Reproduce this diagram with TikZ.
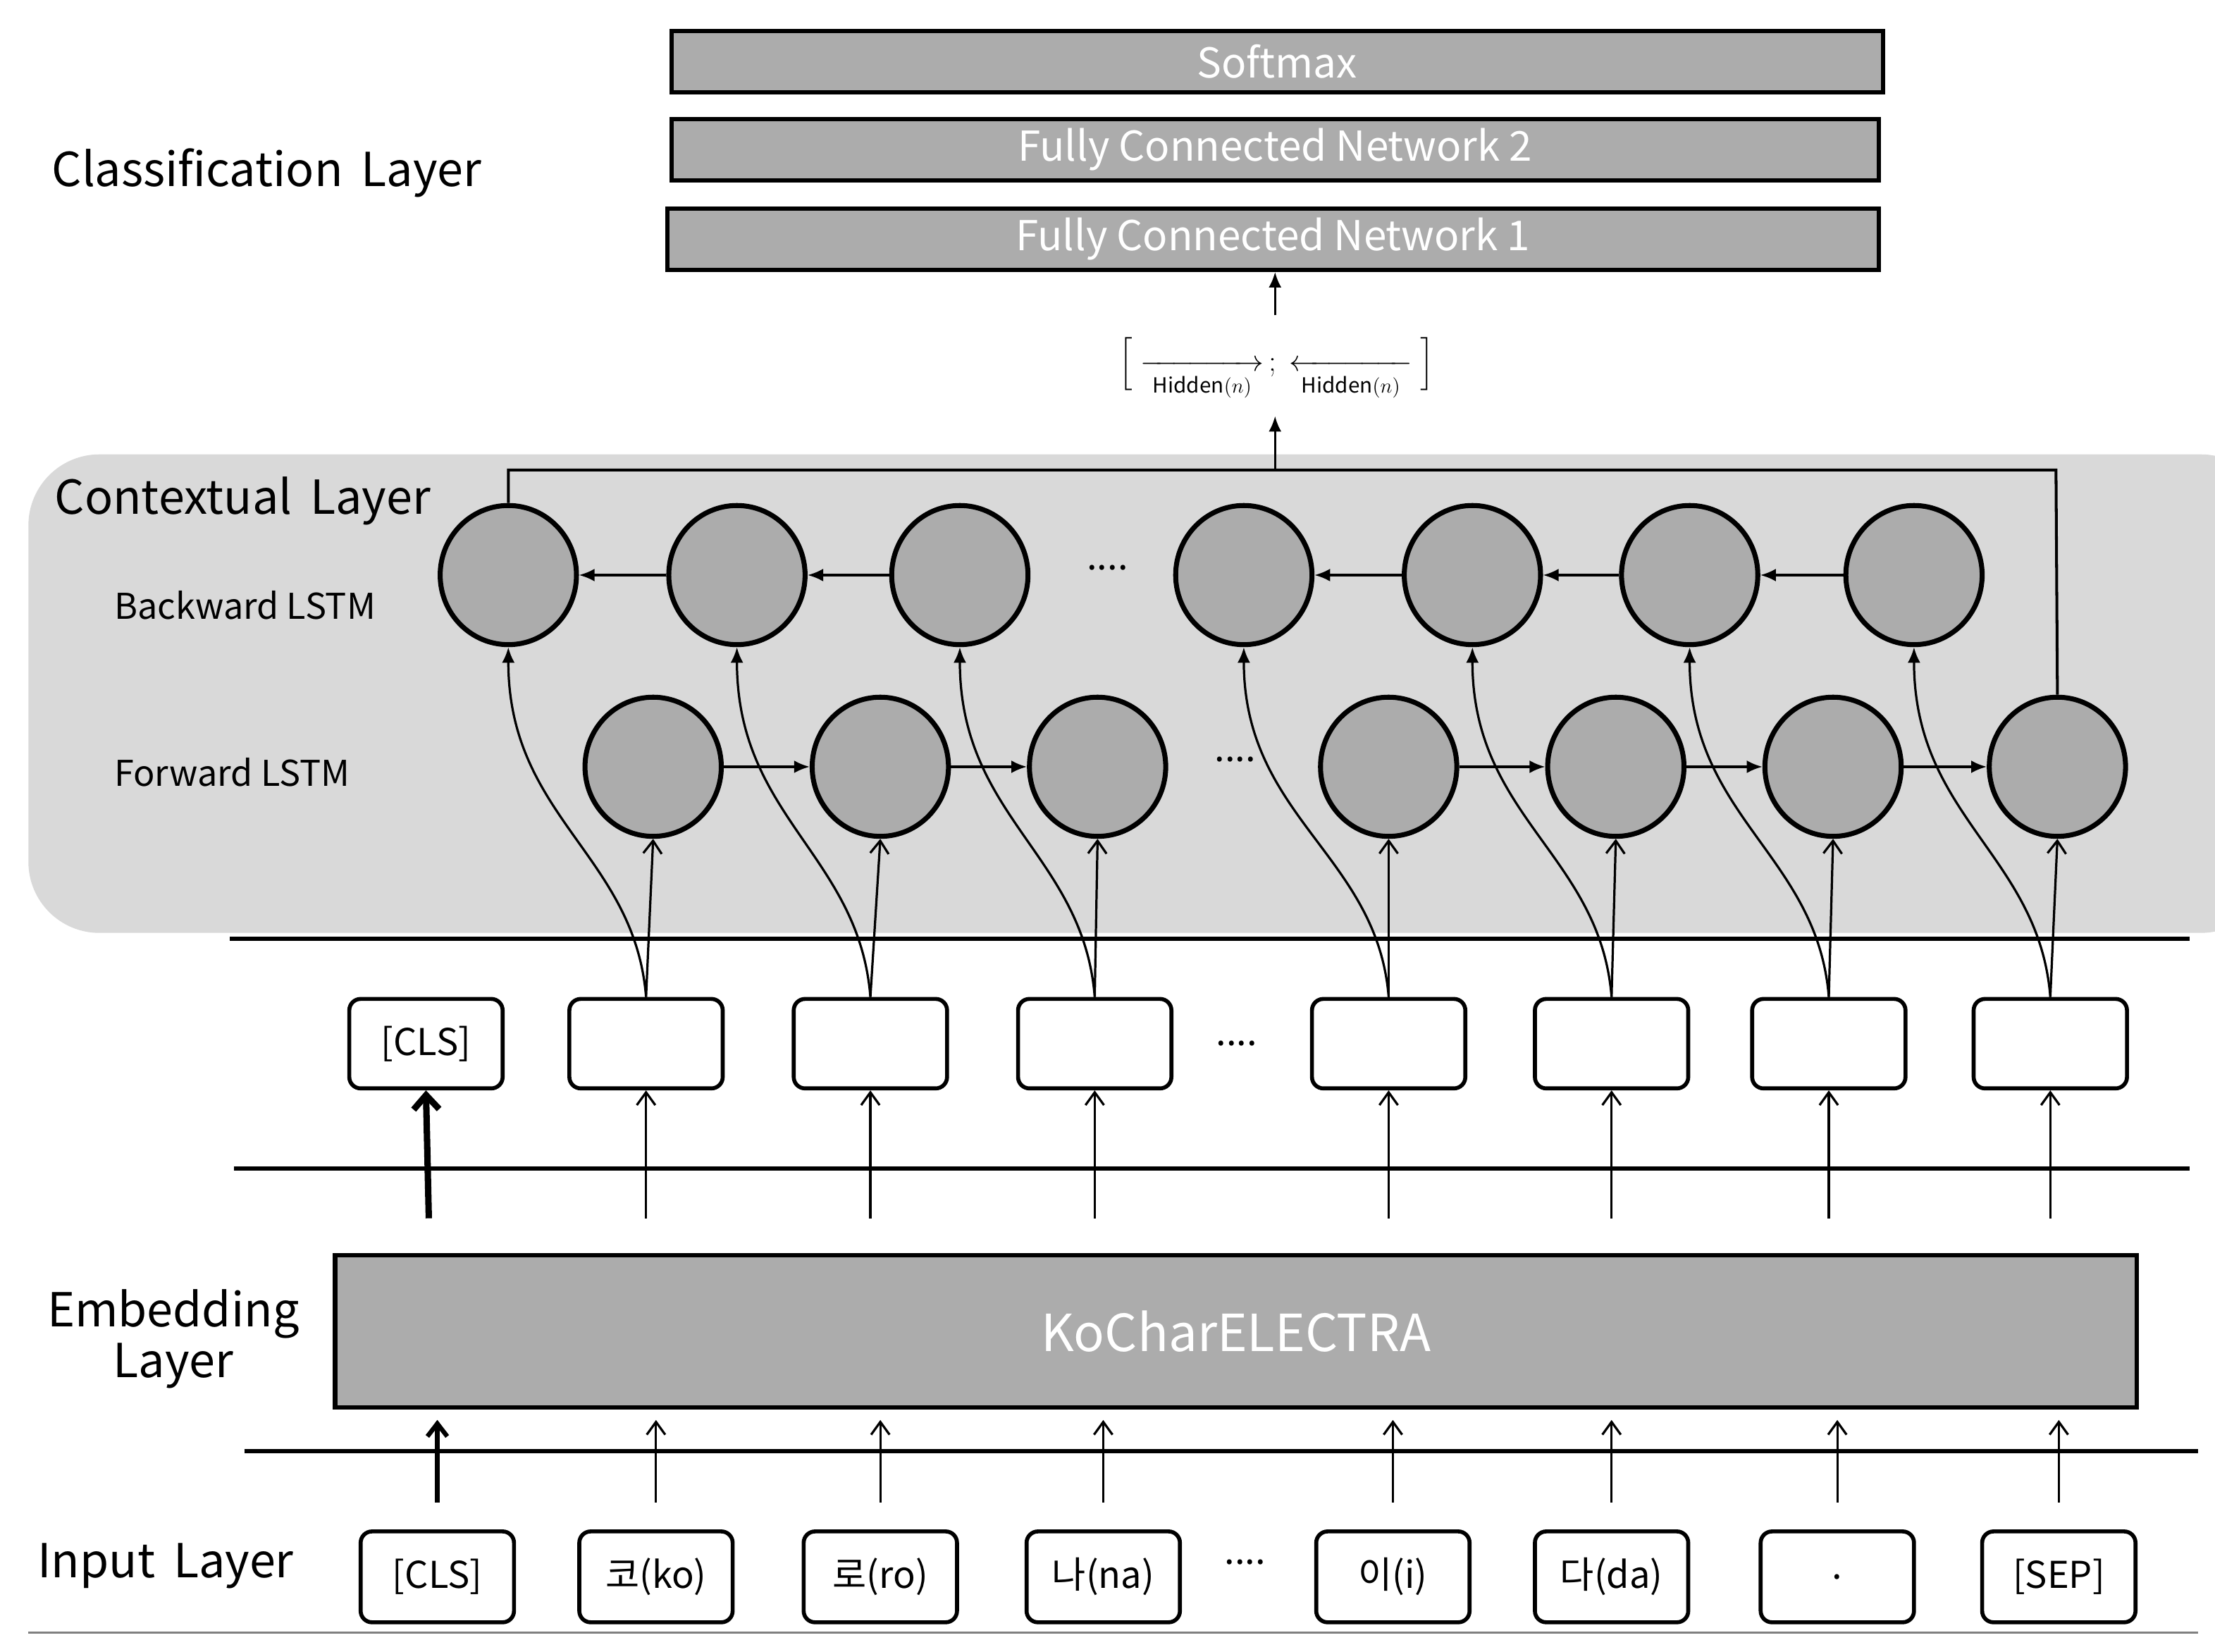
\documentclass[tikz,border=0pt]{standalone}
\usepackage{amsmath}
\usepackage{fontspec}
\setmainfont{Noto Sans CJK KR}
\usetikzlibrary{arrows.meta,calc,shapes.geometric}
\begin{document}
\begin{tikzpicture}[x=1pt,y=-1pt,
  bar/.style={draw=black,line width=3pt,fill=gray!65,text=white,font=\fontsize{29}{30}\selectfont},
  lstm/.style={draw=black,line width=3.5pt,fill=gray!65,ellipse,minimum width=96pt,minimum height=98pt,inner sep=0pt},
  tok/.style={draw=black,line width=2.8pt,rounded corners=8pt,minimum width=108pt,minimum height=63pt,inner sep=0pt,font=\fontsize{26}{28}\selectfont},
  hl/.style={line width=3pt},
  ar/.style={line width=1.6pt,-{Latex[length=11pt,width=9pt]}},
  oar/.style={line width=1.6pt,-{Straight Barb[length=9pt,width=13pt]}},
  lab/.style={anchor=west,font=\fontsize{33}{36}\selectfont},
  slab/.style={anchor=west,font=\fontsize{25}{28}\selectfont},
  dots/.style={font=\fontsize{26}{28}\selectfont}]
\useasboundingbox (0,0) rectangle (1560,1163.4);
% classification
\node[bar,minimum width=853pt,minimum height=43pt] (sm) at (899.5,43.5) {Softmax};
\node[bar,minimum width=850pt,minimum height=43pt] (fc2) at (898,105.5) {Fully Connected Network 2};
\node[bar,minimum width=853pt,minimum height=43pt] (fc1) at (896.5,168.5) {Fully Connected Network 1};
\node[lab] (cl) at (33,122) {Classification\, Layer};
\node (hid) at (899,260) {\fontsize{21}{24}\selectfont$\Big[\underset{\mathit{Hidden}(n)}{\xrightarrow{\hspace{3.6em}}}\,;\;\underset{\mathit{Hidden}(n)}{\xleftarrow{\hspace{3.6em}}}\Big]$};
\coordinate (ha) at (898,222);
\draw[ar] (ha) -- (fc1.south -| ha);
% contextual
\fill[gray!30,rounded corners=50pt] (20,320) rectangle (1600,657);
\node[lab] (ctx) at (35,353) {Contextual\, Layer};
\node[slab] (bw) at (77,426) {Backward LSTM};
\node[slab] (fw) at (77,544) {Forward LSTM};
\foreach \n/\x in {1/358,2/519,3/676,4/876,5/1037,6/1190,7/1348}
  \node[lstm] (b\n) at (\x,405) {};
\foreach \n/\x in {1/460,2/620,3/773,4/978,5/1138,6/1291,7/1449}
  \node[lstm] (f\n) at (\x,540) {};
\foreach \a/\b in {2/1,3/2,5/4,6/5,7/6} \draw[ar] (b\a) -- (b\b);
\foreach \a/\b in {1/2,2/3,4/5,5/6,6/7} \draw[ar] (f\a) -- (f\b);
\node[dots] (d1) at (780,400) {....};
\node[dots] (d2) at (870,535) {....};
\coordinate (tl) at (358,331);
\coordinate (tr) at (1448,331);
\coordinate (tm) at (898,331);
\draw[line width=2pt] (b1.north) -- (tl) -- (tr) -- (f7.north);
\draw[ar] (tm) -- (898,293);
\draw[hl] (162,661) -- (1542,661);
% token boxes
\node[tok] (t0) at (300,735) {[CLS]};
\foreach \n/\x in {1/455,2/613,3/771,4/978,5/1135,6/1288,7/1444}
  \node[tok] (t\n) at (\x,735) {};
\node[dots] (d3) at (871,735) {....};
\foreach \n in {1,...,7}{
  \draw[oar] (t\n.north) -- (f\n.south);
  \draw[ar] (t\n.north) .. controls ($(t\n.north)+(-8,-100)$) and ($(b\n.south)+(0,120)$) .. (b\n.south);
}
\draw[hl] (165,823) -- (1542,823);
% embedding
\node[bar,minimum width=1269pt,minimum height=107pt,font=\fontsize{36}{38}\selectfont] (emb) at (870.5,937.5) {KoCharELECTRA};
\node[font=\fontsize{33}{36}\selectfont,align=center] (el) at (122,943) {Embedding\\Layer};
\draw[line width=4.5pt,-{Straight Barb[length=10pt,width=18pt]}] (302,858) -- (t0.south);
\foreach \n in {1,...,7}{
  \coordinate (s\n) at (t\n.south |- 0,858);
  \draw[oar] (s\n) -- (t\n.south);
}
\draw[hl] (172,1022) -- (1548,1022);
% input
\foreach \n/\x/\t in {0/308/{[CLS]},1/462/{코(ko)},2/620/{로(ro)},3/777/{나(na)},4/981/{이(i)},5/1135/{다(da)},6/1294/{.},7/1450/{[SEP]}}{
  \node[tok,minimum height=64pt] (i\n) at (\x,1110.5) {\t};
  \coordinate (u\n) at (\x,1058);
  \draw[oar,line width=1.6pt] (u\n) -- (\x,1000);
}
\draw[line width=3.2pt,-{Straight Barb[length=9pt,width=14pt]}] (u0) -- (308,1000);
\node[dots] (d4) at (877,1100) {....};
\node[lab] (il) at (23,1103) {Input\, Layer};
\draw[gray,line width=1.5pt] (20,1150) -- (1548,1150);
\end{tikzpicture}
\end{document}
